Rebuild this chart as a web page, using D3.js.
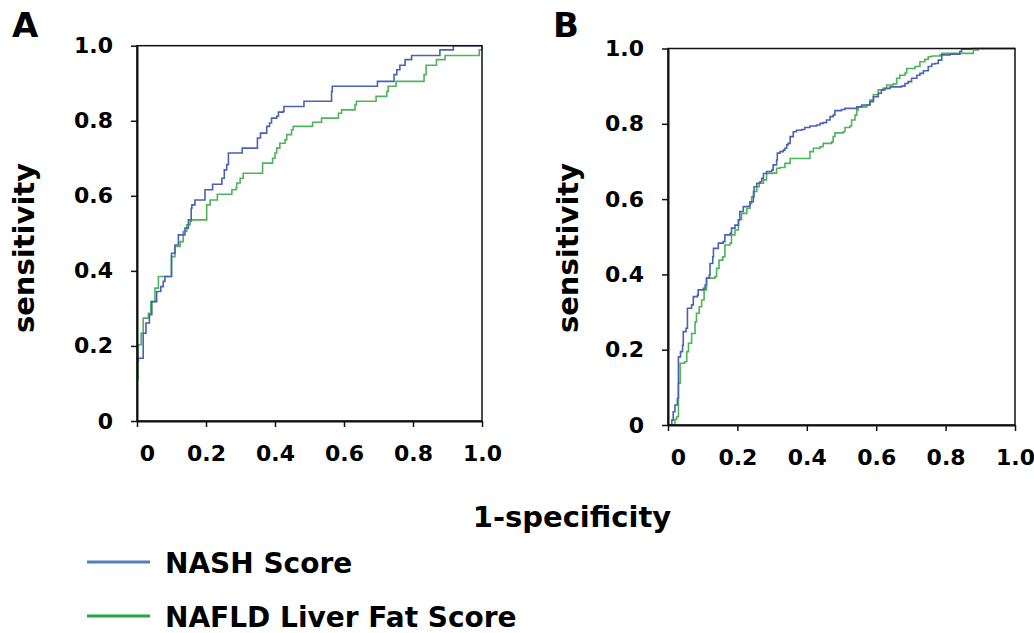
<!DOCTYPE html>
<html>
<head>
<meta charset="utf-8">
<script src="https://cdn.jsdelivr.net/npm/d3@7"></script>
<style>
  body { margin: 0; background: #fff; }
  text { font-family: "DejaVu Sans", Verdana, sans-serif; font-weight: bold; fill: #000; }
</style>
</head>
<body>
<script>
// tick values / labels shared by both axes
var tickValues = [0, 0.2, 0.4, 0.6, 0.8, 1.0];
var tickLabels = ["0", "0.2", "0.4", "0.6", "0.8", "1.0"];
var seriesNames = ["NASH Score", "NAFLD Liver Fat Score"];
var panelNames = ["A", "B"];

// [1-specificity, sensitivity]
var nashA = [[0,0.16],[0.004,0.167],[0.018,0.167],[0.018,0.234],[0.026,0.234],[0.026,0.261],[0.033,0.261],[0.036,0.283],[0.043,0.301],[0.043,0.318],[0.057,0.318],[0.057,0.345],[0.067,0.345],[0.069,0.358],[0.076,0.372],[0.081,0.385],[0.100,0.385],[0.100,0.447],[0.110,0.456],[0.110,0.469],[0.120,0.469],[0.120,0.496],[0.134,0.496],[0.139,0.514],[0.149,0.523],[0.149,0.536],[0.157,0.567],[0.159,0.576],[0.168,0.589],[0.192,0.589],[0.197,0.616],[0.216,0.616],[0.219,0.631],[0.241,0.631],[0.246,0.647],[0.253,0.669],[0.260,0.683],[0.265,0.714],[0.303,0.714],[0.305,0.727],[0.345,0.727],[0.349,0.754],[0.358,0.767],[0.371,0.767],[0.376,0.785],[0.384,0.794],[0.390,0.807],[0.405,0.812],[0.410,0.823],[0.424,0.825],[0.426,0.838],[0.482,0.838],[0.484,0.852],[0.562,0.852],[0.564,0.878],[0.566,0.892],[0.695,0.892],[0.697,0.905],[0.741,0.905],[0.745,0.923],[0.753,0.936],[0.762,0.948],[0.777,0.963],[0.796,0.963],[0.796,0.974],[0.878,0.974],[0.878,0.989],[0.917,0.989],[0.917,1],[1,1]];
var nafldA = [[0.003,0.109],[0.003,0.203],[0.012,0.207],[0.012,0.234],[0.018,0.234],[0.018,0.274],[0.033,0.274],[0.033,0.287],[0.040,0.296],[0.040,0.318],[0.052,0.318],[0.052,0.354],[0.062,0.367],[0.062,0.385],[0.100,0.385],[0.100,0.438],[0.110,0.452],[0.110,0.465],[0.125,0.465],[0.125,0.478],[0.134,0.483],[0.134,0.505],[0.144,0.509],[0.144,0.523],[0.154,0.532],[0.158,0.536],[0.197,0.536],[0.202,0.576],[0.212,0.589],[0.233,0.589],[0.233,0.604],[0.270,0.604],[0.275,0.616],[0.287,0.620],[0.289,0.634],[0.299,0.647],[0.308,0.660],[0.361,0.660],[0.364,0.687],[0.390,0.687],[0.393,0.700],[0.400,0.714],[0.405,0.727],[0.414,0.740],[0.429,0.749],[0.434,0.763],[0.448,0.776],[0.453,0.785],[0.506,0.785],[0.509,0.796],[0.530,0.796],[0.535,0.807],[0.579,0.807],[0.584,0.820],[0.593,0.829],[0.632,0.843],[0.636,0.852],[0.690,0.852],[0.693,0.865],[0.719,0.865],[0.724,0.878],[0.728,0.892],[0.748,0.892],[0.751,0.905],[0.828,0.905],[0.832,0.923],[0.838,0.936],[0.838,0.948],[0.864,0.948],[0.868,0.963],[0.893,0.963],[0.893,0.974],[0.989,0.974],[0.992,0.989],[1,1]];
var nashB = [[0,0],[0.011,0.013],[0.015,0.035],[0.020,0.053],[0.027,0.071],[0.030,0.181],[0.036,0.195],[0.042,0.212],[0.044,0.248],[0.052,0.257],[0.056,0.310],[0.068,0.319],[0.073,0.341],[0.085,0.345],[0.087,0.359],[0.102,0.363],[0.107,0.372],[0.111,0.390],[0.119,0.398],[0.121,0.429],[0.129,0.447],[0.131,0.469],[0.145,0.483],[0.159,0.487],[0.164,0.505],[0.179,0.509],[0.183,0.523],[0.193,0.531],[0.203,0.545],[0.207,0.567],[0.217,0.580],[0.232,0.581],[0.236,0.593],[0.246,0.606],[0.248,0.633],[0.256,0.642],[0.265,0.646],[0.270,0.655],[0.275,0.668],[0.284,0.673],[0.299,0.677],[0.303,0.691],[0.313,0.704],[0.315,0.722],[0.323,0.726],[0.332,0.730],[0.337,0.735],[0.342,0.744],[0.346,0.748],[0.352,0.766],[0.361,0.779],[0.370,0.783],[0.385,0.785],[0.394,0.790],[0.409,0.794],[0.428,0.797],[0.438,0.801],[0.447,0.803],[0.457,0.810],[0.467,0.819],[0.476,0.823],[0.481,0.835],[0.500,0.838],[0.510,0.841],[0.529,0.841],[0.544,0.845],[0.558,0.850],[0.573,0.850],[0.582,0.859],[0.592,0.872],[0.606,0.881],[0.615,0.890],[0.625,0.894],[0.640,0.898],[0.659,0.898],[0.673,0.900],[0.683,0.907],[0.692,0.912],[0.702,0.921],[0.717,0.929],[0.726,0.934],[0.736,0.941],[0.750,0.952],[0.760,0.959],[0.769,0.960],[0.779,0.969],[0.789,0.983],[0.813,0.985],[0.841,0.992],[0.846,0.998],[0.875,1],[1,1]];
var nafldB = [[0,0],[0.020,0.015],[0.025,0.022],[0.030,0.111],[0.035,0.164],[0.048,0.168],[0.054,0.195],[0.059,0.217],[0.068,0.243],[0.078,0.274],[0.082,0.297],[0.090,0.314],[0.097,0.332],[0.104,0.359],[0.111,0.390],[0.135,0.394],[0.140,0.416],[0.147,0.438],[0.158,0.447],[0.164,0.478],[0.179,0.483],[0.183,0.505],[0.193,0.518],[0.203,0.545],[0.212,0.562],[0.227,0.575],[0.236,0.588],[0.241,0.606],[0.246,0.620],[0.256,0.633],[0.263,0.642],[0.275,0.651],[0.284,0.668],[0.303,0.669],[0.313,0.682],[0.323,0.684],[0.337,0.695],[0.352,0.708],[0.400,0.708],[0.409,0.726],[0.419,0.735],[0.438,0.739],[0.447,0.748],[0.472,0.752],[0.476,0.766],[0.481,0.776],[0.505,0.779],[0.510,0.790],[0.524,0.794],[0.529,0.810],[0.539,0.823],[0.544,0.837],[0.548,0.845],[0.573,0.850],[0.582,0.863],[0.592,0.877],[0.606,0.890],[0.620,0.894],[0.630,0.903],[0.649,0.906],[0.659,0.921],[0.668,0.929],[0.683,0.935],[0.688,0.947],[0.712,0.952],[0.726,0.965],[0.740,0.971],[0.750,0.978],[0.760,0.980],[0.784,0.983],[0.789,0.987],[0.875,0.987],[0.880,0.996],[0.894,1],[1,1]];

var lineColors = ["#4a62b4", "#4fb35a"];
var legendColors = ["#4f81bd", "#22a849"];

var svg = d3.select("body").append("svg")
    .attr("width", 1034)
    .attr("height", 633);

var panels = [
  { name: panelNames[0], left: 137, top: 45.7, width: 345, height: 375.3, series: [nashA, nafldA], labelX: 12, ylabX: 24 },
  { name: panelNames[1], left: 668, top: 48.5, width: 347, height: 376.5, series: [nashB, nafldB], labelX: 553, ylabX: 568 }
];

panels.forEach(function(p) {
  var g = svg.append("g")
      .attr("transform", "translate(" + p.left + "," + p.top + ")");

  var x = d3.scaleLinear().domain([0, 1]).range([0, p.width]);
  var y = d3.scaleLinear().domain([0, 1]).range([p.height, 0]);

  var line = d3.line()
      .x(function(d) { return x(d[0]); })
      .y(function(d) { return y(d[1]); })
      .curve(d3.curveStepAfter);

  // green under blue
  [1, 0].forEach(function(i) {
    g.append("path")
        .datum(p.series[i])
        .attr("fill", "none")
        .attr("stroke", lineColors[i])
        .attr("stroke-width", 1.6)
        .attr("d", line);
  });

  // frame
  g.append("rect")
      .attr("width", p.width)
      .attr("height", p.height)
      .attr("fill", "none")
      .attr("stroke", "#111")
      .attr("stroke-width", 1.5);

  var xAxis = d3.axisBottom(x)
      .tickValues(tickValues)
      .tickFormat(function(d, i) { return tickLabels[i]; })
      .tickSize(6)
      .tickPadding(18)
      .tickSizeOuter(0);

  var yAxis = d3.axisLeft(y)
      .tickValues(tickValues)
      .tickFormat(function(d, i) { return tickLabels[i]; })
      .tickSize(6)
      .tickPadding(18)
      .tickSizeOuter(0);

  var gx = g.append("g")
      .attr("transform", "translate(0," + p.height + ")")
      .call(xAxis);
  gx.selectAll("text").attr("dx", function(d, i) { return i === 0 ? 10 : 0; });

  var gy = g.append("g").call(yAxis);

  [gx, gy].forEach(function(a) {
    a.selectAll("text")
        .style("font-size", "22px")
        .style("font-family", "'DejaVu Sans', Verdana, sans-serif")
        .style("font-weight", "bold");
    a.selectAll("line").attr("stroke", "#111").attr("stroke-width", 1.5);
    a.select(".domain").attr("stroke", "#111").attr("stroke-width", 2);
  });

  // panel letter
  svg.append("text")
      .attr("x", p.labelX)
      .attr("y", 37)
      .style("font-size", "34px")
      .text(p.name);

  // y title
  svg.append("text")
      .attr("transform", "translate(" + p.ylabX + ",248) rotate(-90)")
      .attr("text-anchor", "middle")
      .attr("dy", "0.35em")
      .style("font-size", "29px")
      .text("sensitivity");
});

svg.append("text")
    .attr("x", 572)
    .attr("y", 527)
    .attr("text-anchor", "middle")
    .style("font-size", "29px")
    .text("1-specificity");

// legend
var legendY = [562, 616];
seriesNames.forEach(function(name, i) {
  svg.append("line")
      .attr("x1", 87).attr("x2", 150)
      .attr("y1", legendY[i]).attr("y2", legendY[i])
      .attr("stroke", legendColors[i])
      .attr("stroke-width", 3);
  svg.append("text")
      .attr("x", 165)
      .attr("y", legendY[i] + 11)
      .style("font-size", "28px")
      .text(name);
});
</script>
</body>
</html>
